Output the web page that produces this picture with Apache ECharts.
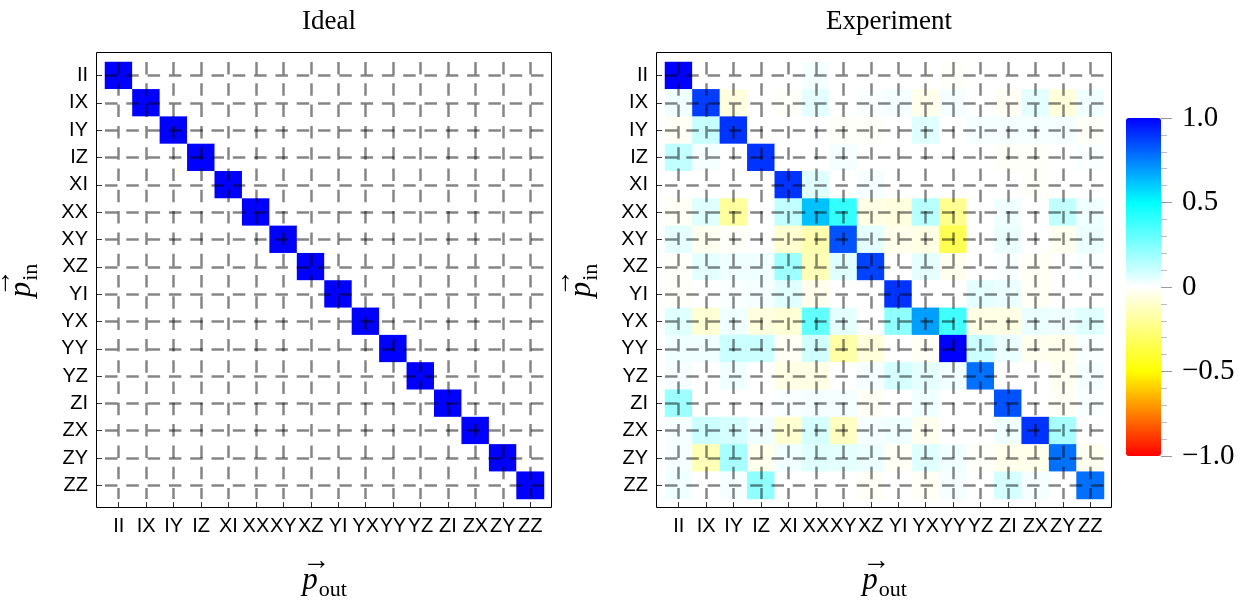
<!DOCTYPE html>
<html>
<head>
<meta charset="utf-8">
<title>Process matrices</title>
<script src="https://cdn.jsdelivr.net/npm/echarts@6/dist/echarts.min.js"></script>
<style>
  html, body { margin: 0; padding: 0; background: #fff; }
  #chart { width: 1247px; height: 603px; }
</style>
</head>
<body>
<div id="chart"></div>
<script>
// Pauli labels for output (columns) and input (rows)
const outLabels = ['II','IX','IY','IZ','XI','XX','XY','XZ','YI','YX','YY','YZ','ZI','ZX','ZY','ZZ'];
const inLabels  = ['II','IX','IY','IZ','XI','XX','XY','XZ','YI','YX','YY','YZ','ZI','ZX','ZY','ZZ'];

// Ideal process: identity, rows = p_in, columns = p_out
const idealRows = [
  [1,0,0,0,0,0,0,0,0,0,0,0,0,0,0,0],
  [0,1,0,0,0,0,0,0,0,0,0,0,0,0,0,0],
  [0,0,1,0,0,0,0,0,0,0,0,0,0,0,0,0],
  [0,0,0,1,0,0,0,0,0,0,0,0,0,0,0,0],
  [0,0,0,0,1,0,0,0,0,0,0,0,0,0,0,0],
  [0,0,0,0,0,1,0,0,0,0,0,0,0,0,0,0],
  [0,0,0,0,0,0,1,0,0,0,0,0,0,0,0,0],
  [0,0,0,0,0,0,0,1,0,0,0,0,0,0,0,0],
  [0,0,0,0,0,0,0,0,1,0,0,0,0,0,0,0],
  [0,0,0,0,0,0,0,0,0,1,0,0,0,0,0,0],
  [0,0,0,0,0,0,0,0,0,0,1,0,0,0,0,0],
  [0,0,0,0,0,0,0,0,0,0,0,1,0,0,0,0],
  [0,0,0,0,0,0,0,0,0,0,0,0,1,0,0,0],
  [0,0,0,0,0,0,0,0,0,0,0,0,0,1,0,0],
  [0,0,0,0,0,0,0,0,0,0,0,0,0,0,1,0],
  [0,0,0,0,0,0,0,0,0,0,0,0,0,0,0,1]
];

// Measured process, rows = p_in, columns = p_out
const experimentRows = [
  [ 1.00, 0.00, 0.00, 0.00, 0.00, 0.02, 0.00, 0.00, 0.00, 0.00,-0.01, 0.00, 0.00, 0.00, 0.00, 0.00],
  [ 0.03, 0.88,-0.06, 0.00,-0.01, 0.05, 0.00, 0.01, 0.02,-0.04, 0.02, 0.00,-0.02, 0.05,-0.07, 0.03],
  [-0.02, 0.11, 0.90, 0.00, 0.00, 0.00,-0.01,-0.01, 0.00, 0.06, 0.00, 0.02, 0.02, 0.02, 0.02,-0.01],
  [ 0.12, 0.02, 0.00, 0.90, 0.00, 0.00, 0.02, 0.00, 0.00, 0.00, 0.00, 0.00,-0.01,-0.01, 0.00, 0.01],
  [ 0.00, 0.00, 0.00, 0.00, 0.90, 0.06, 0.00, 0.02, 0.00, 0.00, 0.00, 0.00, 0.00,-0.01, 0.00, 0.00],
  [-0.02, 0.06,-0.19, 0.00, 0.12, 0.62, 0.40,-0.05,-0.06, 0.14,-0.22, 0.00, 0.03, 0.00, 0.12, 0.03],
  [ 0.05,-0.03,-0.01, 0.00,-0.09,-0.16, 0.84, 0.05,-0.04,-0.05,-0.34, 0.00, 0.04, 0.00,-0.03, 0.04],
  [-0.01, 0.05, 0.03, 0.03, 0.19,-0.14, 0.06, 0.87, 0.00, 0.05,-0.03, 0.00, 0.01,-0.02, 0.00, 0.01],
  [-0.01, 0.00, 0.01, 0.02, 0.06,-0.04, 0.00, 0.00, 0.90, 0.00, 0.00, 0.05, 0.04,-0.02, 0.00, 0.00],
  [ 0.06,-0.08, 0.03,-0.06,-0.08, 0.31, 0.05, 0.00, 0.22, 0.69, 0.37,-0.05,-0.05, 0.04, 0.03, 0.06],
  [ 0.03, 0.03, 0.10, 0.10,-0.02, 0.09,-0.17,-0.07, 0.00,-0.02, 1.00, 0.10, 0.04,-0.03,-0.04, 0.01],
  [ 0.02, 0.00, 0.03, 0.00,-0.05,-0.05, 0.00, 0.02, 0.08, 0.05, 0.03, 0.78, 0.00, 0.00,-0.03, 0.02],
  [ 0.19, 0.00, 0.00, 0.00, 0.01, 0.02, 0.02,-0.02, 0.00, 0.03, 0.00, 0.00, 0.84, 0.00,-0.02, 0.01],
  [ 0.02, 0.10, 0.08, 0.03,-0.09, 0.08,-0.12, 0.02, 0.03,-0.03, 0.00, 0.00, 0.03, 0.90, 0.17, 0.00],
  [ 0.02,-0.14, 0.17,-0.04, 0.03, 0.06, 0.05, 0.04,-0.02, 0.06, 0.03,-0.01,-0.04,-0.04, 0.78,-0.03],
  [ 0.03, 0.00, 0.02, 0.22, 0.00, 0.00, 0.00,-0.02, 0.00,-0.02, 0.02, 0.00, 0.08, 0.02, 0.00, 0.78]
];

// Colour bar ticks
const barTickValues = [-1, -0.5, 0, 0.5, 1];
const barTickLabels = ['\u22121.0', '\u22120.5', '0', '0.5', '1.0'];

// Colour scale stops from -1 to 1
const scaleColors = ['#ff0000', '#ffff00', '#ffffff', '#00ffff', '#0000ff'];

function toCells(rows) {
  const cells = [];
  rows.forEach((row, r) => row.forEach((v, c) => cells.push([c, r, v])));
  return cells;
}

const SANS = "'Liberation Sans', Arial, sans-serif";
const SERIF = "'Liberation Serif', 'Times New Roman', serif";
const meshLine = { show: true, interval: 0, alignWithLabel: true,
  lineStyle: { color: 'rgba(0,0,0,0.48)', width: 2.5, type: [12.5, 8.8] } };

const nameRich = {
  ar: { fontFamily: SERIF, fontSize: 28, lineHeight: 10, align: 'left', color: '#000' },
  p: { fontFamily: SERIF, fontStyle: 'italic', fontSize: 31, lineHeight: 28, align: 'left', color: '#000' },
  s: { fontFamily: SERIF, fontSize: 22, lineHeight: 28, align: 'left', verticalAlign: 'bottom', padding: [0, 0, -6, 1], color: '#000' }
};

function xAxisFor(grid) {
  return {
    type: 'category', gridIndex: grid, data: outLabels, position: 'bottom', offset: 9, z: 5,
    axisLine: { show: false },
    axisTick: { show: true, inside: true, length: 6, alignWithLabel: true, interval: 0,
      lineStyle: { color: '#333', width: 1 } },
    axisLabel: { interval: 0, margin: 8, color: '#000', fontFamily: SANS, fontSize: 20 },
    splitLine: meshLine,
    name: '{ar|\u2192}\n{p|p}{s|out}', nameLocation: 'middle', nameGap: 49,
    nameTextStyle: { rich: nameRich }
  };
}
function yAxisFor(grid) {
  return {
    type: 'category', gridIndex: grid, data: inLabels, inverse: true, position: 'left', offset: 9, z: 5,
    axisLine: { show: false },
    axisTick: { show: true, inside: true, length: 6, alignWithLabel: true, interval: 0,
      lineStyle: { color: '#333', width: 1 } },
    axisLabel: { interval: 0, margin: 8, color: '#000', fontFamily: SANS, fontSize: 20 },
    splitLine: meshLine,
    name: '{ar|\u2192}\n{p|p}{s|in}', nameLocation: 'middle', nameGap: 60, nameRotate: 90,
    nameTextStyle: { rich: nameRich }
  };
}

const chart = echarts.init(document.getElementById('chart'), null, { renderer: 'canvas' });
chart.setOption({
  animation: false,
  backgroundColor: '#fff',
  title: [
    { text: 'Ideal', left: 324, top: 3, textAlign: 'center',
      textStyle: { fontFamily: SERIF, fontSize: 27, fontWeight: 'normal', color: '#000' } },
    { text: 'Experiment', left: 884, top: 3, textAlign: 'center',
      textStyle: { fontFamily: SERIF, fontSize: 27, fontWeight: 'normal', color: '#000' } }
  ],
  grid: [
    { left: 105, top: 62, width: 439, height: 437, outerBoundsMode: 'none', containLabel: false },
    { left: 665, top: 62, width: 439, height: 437, outerBoundsMode: 'none', containLabel: false },
    { left: 1126, top: 118, width: 35, height: 338, outerBoundsMode: 'none', containLabel: false }
  ],
  xAxis: [
    xAxisFor(0),
    xAxisFor(1),
    { type: 'category', gridIndex: 2, data: [''], show: false }
  ],
  yAxis: [
    yAxisFor(0),
    yAxisFor(1),
    { type: 'value', gridIndex: 2, min: -1, max: 1, interval: 0.5, position: 'right', z: 5,
      axisLine: { show: false },
      axisTick: { show: true, inside: false, length: 11, lineStyle: { color: '#999', width: 1 } },
      minorTick: { show: true, splitNumber: 5, length: 6, lineStyle: { color: '#bbb', width: 1 } },
      splitLine: { show: false },
      axisLabel: { margin: 21, color: '#000', fontFamily: SERIF, fontSize: 29,
        formatter: v => { const i = barTickValues.indexOf(v); return i >= 0 ? barTickLabels[i] : ''; } } }
  ],
  visualMap: {
    type: 'continuous', min: -1, max: 1, seriesIndex: [0, 1], orient: 'vertical',
    left: 1126, top: 118, itemWidth: 35, itemHeight: 338, padding: 0,
    calculable: false, hoverLink: false, text: null, showLabel: false,
    inRange: { color: scaleColors }
  },
  series: [
    { type: 'heatmap', xAxisIndex: 0, yAxisIndex: 0, z: 1, data: toCells(idealRows), silent: true },
    { type: 'heatmap', xAxisIndex: 1, yAxisIndex: 1, z: 1, data: toCells(experimentRows), silent: true }
  ],
  graphic: [
    { type: 'rect', z: 100, silent: true, shape: { x: 96.5, y: 52.5, width: 455, height: 455 },
      style: { fill: null, stroke: '#000', lineWidth: 1 } },
    { type: 'rect', z: 100, silent: true, shape: { x: 656.5, y: 52.5, width: 455, height: 455 },
      style: { fill: null, stroke: '#000', lineWidth: 1 } }
  ]
});
</script>
</body>
</html>
